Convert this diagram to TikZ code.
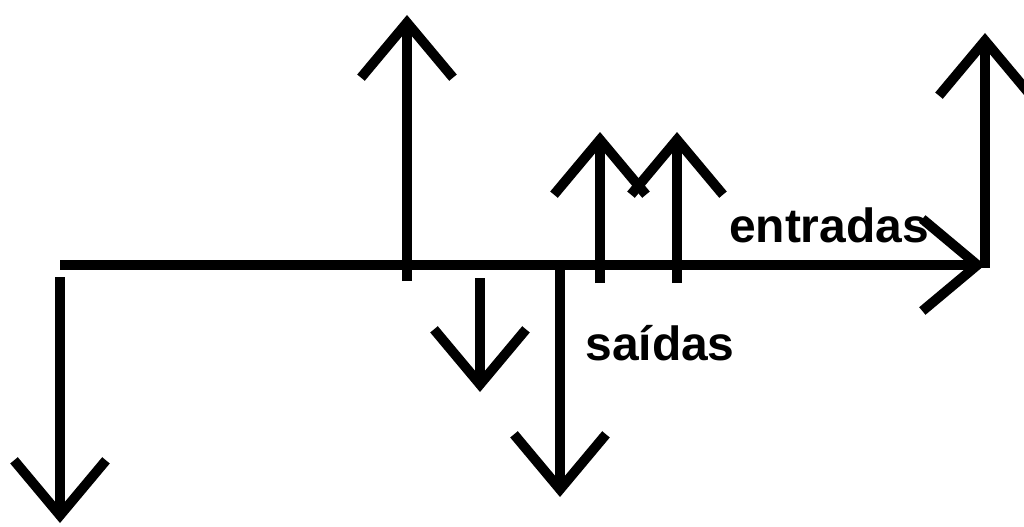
\documentclass[tikz,border=0pt]{standalone}
\usepackage{fontspec}
\setmainfont{Liberation Sans}
\usetikzlibrary{arrows.meta}
\tikzset{
  every picture/.style={line width=5.6pt},
  seta/.style={-{Straight Barb[length=1.1cm, width=1.84cm]}, draw=black},
  eixo/.style={seta},
  rotulo/.style={font=\fontsize{27.3}{30}\selectfont\bfseries, inner sep=0pt, anchor=base},
}
\begin{document}
\begin{tikzpicture}[x=0.02cm, y=-0.02cm]
  \fill[white] (0,0) rectangle (1024,527);
  \useasboundingbox (0,0) rectangle (1024,527);
  % linha do tempo
  \coordinate (inicio) at (60,265);
  \coordinate (fim) at (985,265);
  \draw[eixo] (inicio) -- (fim);
  % fluxos: x / base / ponta
  \foreach \x/\a/\b in {60/277/523, 407/281/15, 480/278/392, 560/265/497, 600/283/132, 677/283/132, 985/268/33} {
    \coordinate (b\x) at (\x,\a);
    \coordinate (p\x) at (\x,\b);
    \draw[seta] (b\x) -- (p\x);
  }
  \node[rotulo] (entradas) at (829,242) {entradas};
  \node[rotulo] (saidas) at (660,360) {saídas};
\end{tikzpicture}
\end{document}
